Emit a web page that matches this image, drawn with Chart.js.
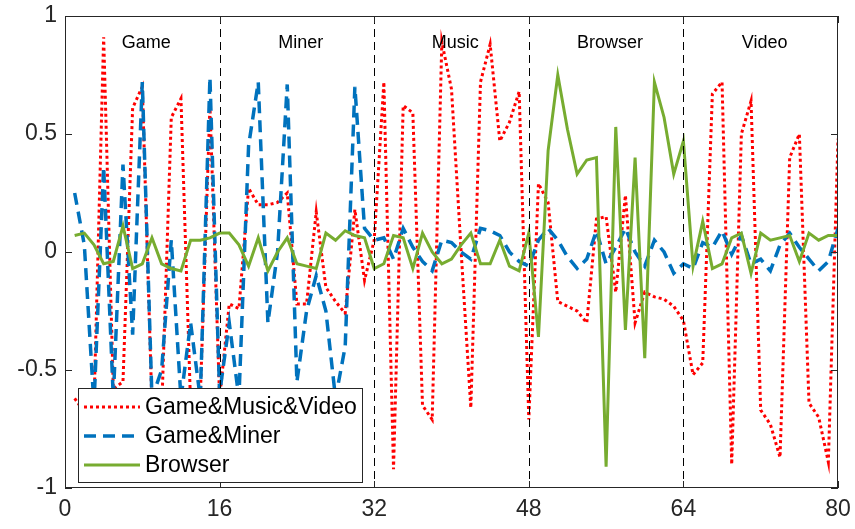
<!DOCTYPE html>
<html lang="en">
<head>
    <meta charset="UTF-8">
    <title>Workload traces</title>
    <script src="https://cdn.jsdelivr.net/npm/chart.js"></script>
    <style>
        body {
            margin: 0;
            padding: 0;
            background: #fff;
        }

        .chart-box {
            position: relative;
            width: 855px;
            height: 529px;
        }
    </style>
</head>
<body>
    <div class="chart-box">
        <canvas id="traceChart"></canvas>
    </div>

    <script>
        // sample index 1..80
        const steps = Array.from({ length: 80 }, (_, i) => i + 1);

        const mixedTrace = [
            -0.62, -0.68, -0.65, 0.91, -0.58, -0.55, 0.61, 0.70, -0.65, -0.68,
            0.57, 0.65, -0.65, -0.62, 0.62, -0.62, -0.22, -0.24, 0.27, 0.20,
            0.20, 0.21, 0.25, -0.22, -0.22, 0.17, -0.15, -0.21, -0.26, 0.18,
            -0.12, 0.05, 0.72, -0.92, 0.62, 0.59, -0.65, -0.71, 0.89, 0.69,
            0.00, -0.66, 0.72, 0.88, 0.47, 0.55, 0.68, -0.71, 0.29, 0.21,
            -0.21, -0.23, -0.25, -0.30, 0.14, 0.15, -0.17, 0.24, -0.30, -0.17,
            -0.19, -0.20, -0.23, -0.29, -0.52, -0.47, 0.67, 0.72, -0.90, 0.50,
            0.64, -0.67, -0.73, -0.87, 0.40, 0.50, -0.64, -0.70, -0.89, 0.48
        ];

        const minerTrace = [
            0.25, 0.03, -0.65, 0.36, -0.62, 0.37, -0.35, 0.72, -0.62, -0.50,
            0.05, -0.62, -0.30, -0.62, 0.74, -0.60, -0.30, -0.62, 0.45, 0.72,
            -0.30, 0.00, 0.71, -0.55, -0.25, -0.10, -0.25, -0.62, -0.40, 0.70,
            0.10, 0.05, 0.06, -0.03, 0.10, 0.02, -0.04, -0.08, 0.05, 0.04,
            0.00, -0.03, 0.10, 0.09, 0.07, 0.00, -0.04, -0.06, 0.05, 0.10,
            0.05, -0.02, -0.07, -0.03, 0.09, -0.05, 0.02, 0.10, 0.00, -0.06,
            0.05, 0.00, -0.09, -0.05, -0.07, 0.04, 0.02, 0.09, -0.01, 0.07,
            -0.05, -0.03, -0.08, 0.03, 0.08, 0.02, -0.03, -0.08, -0.04, 0.10
        ];

        const browserTrace = [
            0.07, 0.08, 0.03, -0.05, -0.04, 0.11, -0.07, -0.05, 0.06, -0.05,
            -0.07, -0.08, 0.05, 0.05, 0.06, 0.08, 0.08, 0.03, -0.06, 0.06,
            -0.08, 0.00, 0.06, -0.05, -0.06, -0.07, 0.08, 0.05, 0.09, 0.07,
            0.06, -0.07, -0.05, 0.07, 0.06, -0.07, 0.08, 0.00, -0.05, -0.03,
            0.03, 0.08, -0.05, -0.05, 0.05, -0.06, -0.08, 0.08, -0.36, 0.43,
            0.75, 0.52, 0.33, 0.39, 0.40, -0.91, 0.53, -0.33, 0.40, -0.45,
            0.72, 0.57, 0.33, 0.47, -0.06, 0.13, -0.07, -0.05, 0.06, 0.08,
            -0.09, 0.08, 0.05, 0.06, 0.07, -0.04, 0.08, 0.05, 0.07, 0.07
        ];

        const phaseNames = ['Game', 'Miner', 'Music', 'Browser', 'Video'];
        const phaseBounds = [16, 32, 48, 64];
        const xTicks = [0, 16, 32, 48, 64, 80];
        const yTicks = [-1, -0.5, 0, 0.5, 1];

        const seriesNames = ['Game&Music&Video', 'Game&Miner', 'Browser'];
        const seriesColors = ['#ff0000', '#0072bd', '#77ac30'];

        const FONT = '"Liberation Sans", Arial, Helvetica, sans-serif';

        function toPoints(values) {
            return values.map((v, i) => ({ x: steps[i], y: v }));
        }

        // keep tick labels from pushing the plot box around
        function noOverflow(scale) {
            scale.paddingTop = 0;
            scale.paddingBottom = 0;
            scale.paddingLeft = 0;
            scale.paddingRight = 0;
        }

        // box, inward ticks, phase separators, phase names and legend
        const axesDecor = {
            id: 'axesDecor',
            afterDatasetsDraw(chart) {
                const ctx = chart.ctx;
                const area = chart.chartArea;
                const xs = chart.scales.x;
                const ys = chart.scales.y;

                ctx.save();

                // dashed separators between phases
                ctx.strokeStyle = '#000';
                ctx.lineWidth = 1;
                ctx.setLineDash([8, 5]);
                phaseBounds.forEach(b => {
                    const px = Math.round(xs.getPixelForValue(b)) + 0.5;
                    ctx.beginPath();
                    ctx.moveTo(px, area.top);
                    ctx.lineTo(px, area.bottom);
                    ctx.stroke();
                });
                ctx.setLineDash([]);

                // phase names
                ctx.fillStyle = '#000';
                ctx.font = '18px ' + FONT;
                ctx.textAlign = 'center';
                ctx.textBaseline = 'middle';
                phaseNames.forEach((name, i) => {
                    const mid = i * 16 + 8.4;
                    ctx.fillText(name, xs.getPixelForValue(mid), ys.getPixelForValue(0.885));
                });

                // axes box
                ctx.strokeStyle = '#262626';
                ctx.lineWidth = 1;
                ctx.strokeRect(Math.round(area.left) + 0.5, Math.round(area.top) + 0.5,
                    Math.round(area.right - area.left) - 1, Math.round(area.bottom - area.top) - 1);

                // inward ticks
                const tl = 7;
                ctx.beginPath();
                xTicks.forEach(t => {
                    const px = Math.round(xs.getPixelForValue(t)) + 0.5;
                    ctx.moveTo(px, area.bottom);
                    ctx.lineTo(px, area.bottom - tl);
                    ctx.moveTo(px, area.top);
                    ctx.lineTo(px, area.top + tl);
                });
                yTicks.forEach(t => {
                    const py = Math.round(ys.getPixelForValue(t)) + 0.5;
                    ctx.moveTo(area.left, py);
                    ctx.lineTo(area.left + tl, py);
                    ctx.moveTo(area.right, py);
                    ctx.lineTo(area.right - tl, py);
                });
                ctx.stroke();

                // legend
                const lx = 78, ly = 388, lw = 284, lh = 94;
                ctx.fillStyle = '#fff';
                ctx.fillRect(lx, ly, lw, lh);
                ctx.strokeStyle = '#262626';
                ctx.strokeRect(lx + 0.5, ly + 0.5, lw, lh);

                const rowY = [407, 436, 465];
                const dashes = [[3, 3], [12, 7], []];
                const widths = [3, 3.5, 3];
                ctx.font = '23px ' + FONT;
                ctx.textAlign = 'left';
                ctx.textBaseline = 'middle';
                seriesNames.forEach((name, i) => {
                    ctx.strokeStyle = seriesColors[i];
                    ctx.lineWidth = widths[i];
                    ctx.setLineDash(dashes[i]);
                    ctx.beginPath();
                    ctx.moveTo(84, rowY[i]);
                    ctx.lineTo(140, rowY[i]);
                    ctx.stroke();
                    ctx.setLineDash([]);
                    ctx.fillStyle = '#000';
                    ctx.fillText(name, 145, rowY[i] + 1);
                });

                ctx.restore();
            }
        };

        new Chart(document.getElementById('traceChart'), {
            type: 'line',
            data: {
                datasets: [{
                    label: seriesNames[0],
                    data: toPoints(mixedTrace),
                    borderColor: seriesColors[0],
                    borderWidth: 3,
                    borderDash: [3, 3],
                    order: 3
                }, {
                    label: seriesNames[1],
                    data: toPoints(minerTrace),
                    borderColor: seriesColors[1],
                    borderWidth: 3.5,
                    borderDash: [12, 7],
                    order: 2
                }, {
                    label: seriesNames[2],
                    data: toPoints(browserTrace),
                    borderColor: seriesColors[2],
                    borderWidth: 3,
                    order: 1
                }]
            },
            options: {
                responsive: true,
                maintainAspectRatio: false,
                animation: false,
                layout: {
                    padding: { top: 16, right: 17, left: 0, bottom: 0 }
                },
                elements: {
                    point: { radius: 0 },
                    line: { tension: 0, fill: false }
                },
                scales: {
                    x: {
                        type: 'linear',
                        min: 0,
                        max: 80,
                        afterBuildTicks: scale => {
                            scale.ticks = xTicks.map(v => ({ value: v }));
                        },
                        afterFit: scale => { scale.height = 41; noOverflow(scale); },
                        grid: { display: false, drawTicks: false },
                        border: { display: false },
                        ticks: {
                            padding: 8,
                            color: '#262626',
                            font: { family: FONT, size: 23 },
                            maxRotation: 0,
                            callback: v => String(v)
                        }
                    },
                    y: {
                        min: -1,
                        max: 1,
                        afterBuildTicks: scale => {
                            scale.ticks = yTicks.map(v => ({ value: v }));
                        },
                        afterFit: scale => { scale.width = 65; noOverflow(scale); },
                        grid: { display: false, drawTicks: false },
                        border: { display: false },
                        ticks: {
                            padding: 8,
                            color: '#262626',
                            font: { family: FONT, size: 23 },
                            callback: v => String(v)
                        }
                    }
                },
                plugins: {
                    legend: { display: false },
                    tooltip: { enabled: false }
                }
            },
            plugins: [axesDecor]
        });
    </script>
</body>
</html>
